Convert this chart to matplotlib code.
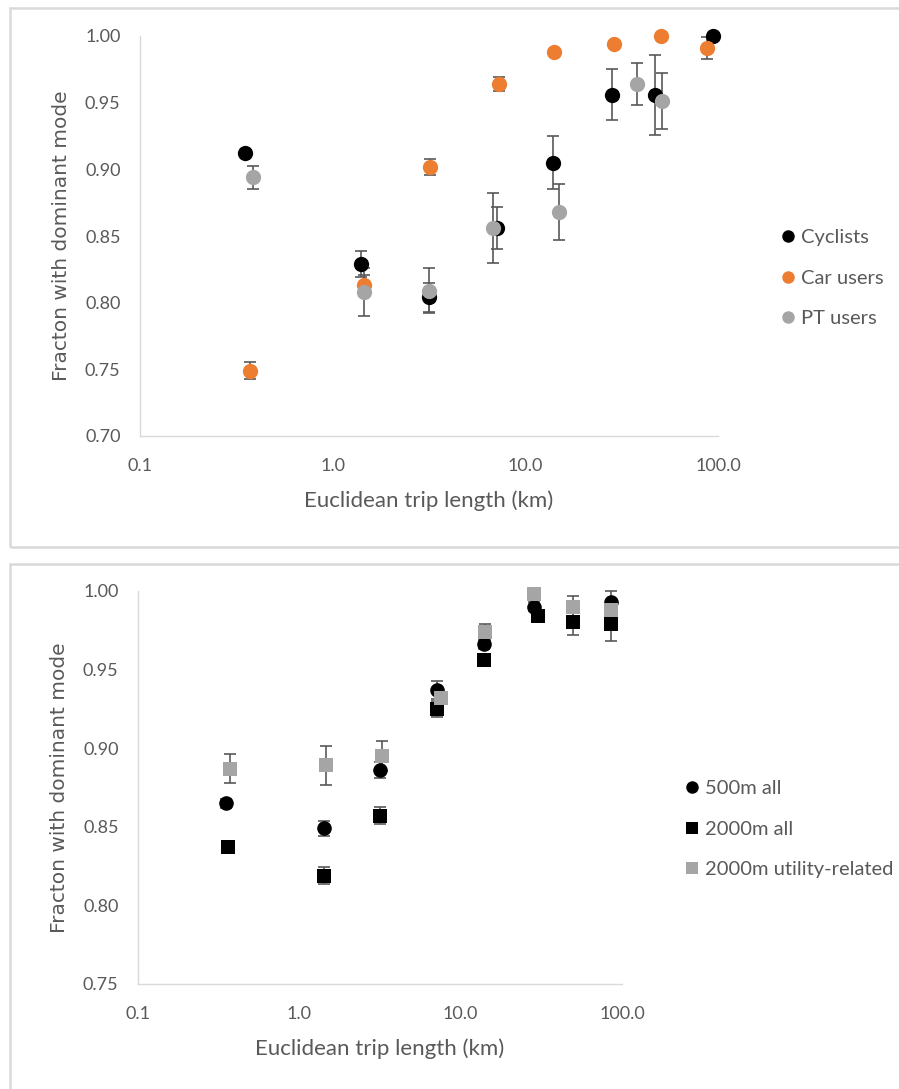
import numpy as np
import matplotlib
matplotlib.use("Agg")
import matplotlib.pyplot as plt
from matplotlib.lines import Line2D
from matplotlib.patches import Rectangle

# top panel: fraction of trips with dominant mode, per user group
cyc_x = [0.351, 1.41, 3.15, 7.1, 13.9, 28.3, 47.0, 94.0]
cyc_y = [0.912, 0.829, 0.804, 0.856, 0.905, 0.956, 0.956, 1.000]
cyc_err = [0.002, 0.0095, 0.011, 0.0155, 0.020, 0.019, 0.030, 0.001]

car_x = [0.372, 1.45, 3.21, 7.3, 14.1, 29.0, 50.3, 87.7]
car_y = [0.749, 0.813, 0.902, 0.964, 0.988, 0.994, 1.000, 0.991]
car_err = [0.0065, 0.008, 0.006, 0.0055, 0.002, 0.002, 0.0, 0.008]

pt_x = [0.387, 1.45, 3.17, 6.76, 15.0, 38.2, 51.3]
pt_y = [0.894, 0.808, 0.809, 0.856, 0.868, 0.964, 0.951]
pt_err = [0.0085, 0.018, 0.017, 0.026, 0.021, 0.016, 0.021]

# bottom panel: sensitivity to buffer size
b500_x = [0.350, 1.43, 3.15, 7.1, 14.0, 28.6, 86.0]
b500_y = [0.865, 0.849, 0.886, 0.937, 0.966, 0.990, 0.993]
b500_err = [0.003, 0.005, 0.005, 0.006, 0.003, 0.003, 0.007]

b2000_x = [0.359, 1.43, 3.15, 7.1, 14.0, 30.2, 49.4, 86.0]
b2000_y = [0.837, 0.819, 0.857, 0.925, 0.956, 0.984, 0.980, 0.979]
b2000_err = [0.002, 0.0055, 0.0055, 0.005, 0.004, 0.003, 0.008, 0.011]

util_x = [0.374, 1.47, 3.25, 7.5, 14.2, 28.6, 49.4, 86.0]
util_y = [0.887, 0.889, 0.895, 0.932, 0.974, 0.998, 0.990, 0.988]
util_err = [0.009, 0.0125, 0.0095, 0.003, 0.005, 0.002, 0.007, 0.004]

xticks = [0.1, 1, 10, 100]
xtick_labels = ["0.1", "1.0", "10.0", "100.0"]

BLACK = "#000000"
ORANGE = "#ED7D31"
GRAY = "#A5A5A5"
TXT = "#595959"
ERR = "#595959"
FONT = "Lato"

W, H = 899, 1089
fig = plt.figure(figsize=(W / 100, H / 100), dpi=100)


def px_axes(left, right, top, bottom):
    return fig.add_axes([left / W, 1 - bottom / H, (right - left) / W, (bottom - top) / H])


def style(ax, ylo, yticks):
    ax.set_xscale("log")
    ax.set_xlim(0.1, 100)
    ax.set_ylim(ylo, 1.0)
    ax.set_xticks(xticks)
    ax.set_xticklabels(xtick_labels)
    ax.xaxis.set_minor_locator(matplotlib.ticker.NullLocator())
    ax.set_yticks(yticks)
    ax.set_yticklabels(["%.2f" % v for v in yticks])
    for s in ["top", "right"]:
        ax.spines[s].set_visible(False)
    for s in ["left", "bottom"]:
        ax.spines[s].set_color("#d9d9d9")
        ax.spines[s].set_linewidth(1.0)
    ax.tick_params(length=0, colors=TXT, labelsize=13, pad=14)
    ax.tick_params(axis="x", pad=16)
    for lab in ax.get_xticklabels() + ax.get_yticklabels():
        lab.set_fontfamily(FONT)
    ax.set_xlabel("Euclidean trip length (km)", fontsize=16, color=TXT, family=FONT, labelpad=12)
    ax.set_ylabel("Fracton with dominant mode", fontsize=14.5, color=TXT, labelpad=10)


def series(ax, x, y, err, color, marker, ms):
    ax.errorbar(x, y, yerr=err, fmt="none", ecolor=ERR, elinewidth=1.2,
                capsize=4, capthick=1.2, zorder=2, clip_on=False)
    ax.plot(x, y, linestyle="none", marker=marker, ms=ms, color=color,
            markeredgewidth=0, zorder=3, clip_on=False)


# chart frames
fig.add_artist(Rectangle((10 / W, 1 - 547 / H), (W + 5) / W, 539 / H, transform=fig.transFigure,
                         fill=False, edgecolor="#d9d9d9", linewidth=1.8))
fig.add_artist(Rectangle((10 / W, -0.01), (W + 5) / W, 1 - 564 / H + 0.01, transform=fig.transFigure,
                         fill=False, edgecolor="#d9d9d9", linewidth=1.8))

ax1 = px_axes(140, 718, 36, 436)
style(ax1, 0.70, np.arange(0.70, 1.001, 0.05))
series(ax1, cyc_x, cyc_y, cyc_err, BLACK, "o", 11)
series(ax1, car_x, car_y, car_err, ORANGE, "o", 11)
series(ax1, pt_x, pt_y, pt_err, GRAY, "o", 11)

h1 = [Line2D([], [], linestyle="none", marker="o", ms=9, color=c, markeredgewidth=0)
      for c in [BLACK, ORANGE, GRAY]]
leg1 = fig.legend(h1, ["Cyclists", "Car users", "PT users"], loc="center left",
                  bbox_to_anchor=(772 / W, 1 - 278 / H), frameon=False,
                  handlelength=0.6, handletextpad=0.35, labelspacing=1.15, borderpad=0,
                  prop={"family": FONT, "size": 14.5})
for t in leg1.get_texts():
    t.set_color(TXT)

ax2 = px_axes(138, 622, 591, 984)
style(ax2, 0.75, np.arange(0.75, 1.001, 0.05))
series(ax2, b500_x, b500_y, b500_err, BLACK, "o", 10.5)
series(ax2, b2000_x, b2000_y, b2000_err, BLACK, "s", 10.5)
series(ax2, util_x, util_y, util_err, GRAY, "s", 10.5)

h2 = [Line2D([], [], linestyle="none", marker=m, ms=9, color=c, markeredgewidth=0)
      for m, c in [("o", BLACK), ("s", BLACK), ("s", GRAY)]]
leg2 = fig.legend(h2, ["500m all", "2000m all", "2000m utility-related"], loc="center left",
                  bbox_to_anchor=(676 / W, 1 - 829 / H), frameon=False,
                  handlelength=0.6, handletextpad=0.35, labelspacing=1.15, borderpad=0,
                  prop={"family": FONT, "size": 14.5})
for t in leg2.get_texts():
    t.set_color(TXT)

fig.savefig("out.png", dpi=100, facecolor="white")
